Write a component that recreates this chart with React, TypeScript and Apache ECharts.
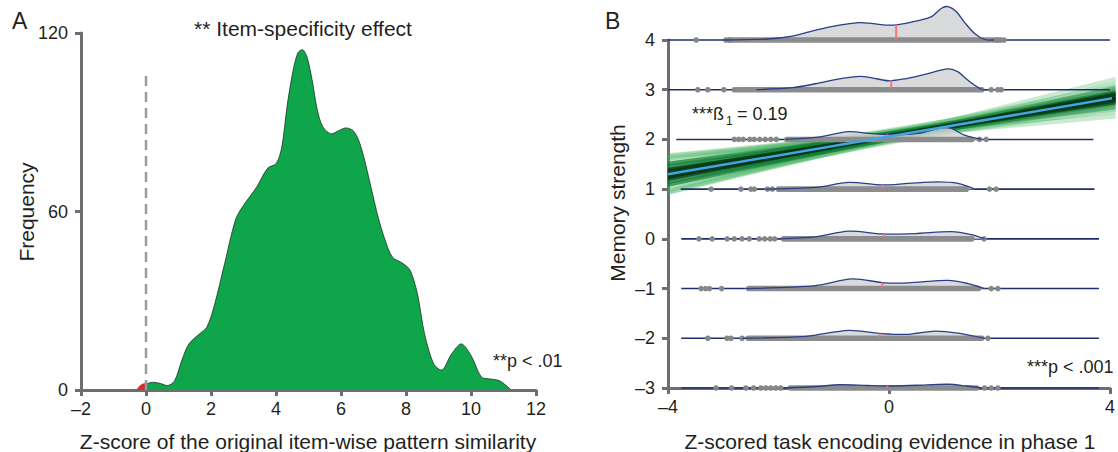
import React, { useEffect, useRef } from "react";
import * as echarts from "echarts";

// ---------- Panel A data ----------
const aDensityX = [0, 0.22, 0.44, 0.66, 0.88, 1.1, 1.32, 1.65, 1.87, 2.09, 2.42, 2.75, 2.97, 3.41, 3.74, 4.01, 4.18, 4.34, 4.51, 4.67, 4.81, 4.95, 5.11, 5.27, 5.44, 5.71, 5.93, 6.15, 6.37, 6.54, 6.7, 6.92, 7.14, 7.36, 7.58, 7.91, 8.13, 8.35, 8.57, 8.85, 9.09, 9.4, 9.7, 10.0, 10.33, 10.6, 10.88, 11.21];
const aDensityFreq = [2.0, 2.6, 2.2, 1.5, 3.1, 9.9, 15.5, 18.9, 21.1, 27.9, 42.5, 57.1, 61.6, 68.3, 74.5, 76.2, 81.8, 95.3, 106.5, 113.3, 114.4, 112.1, 104.3, 94.2, 88.5, 86.1, 87.2, 88.1, 87.2, 84.0, 78.4, 68.3, 58.2, 50.3, 44.7, 42.5, 40.2, 32.4, 18.9, 8.8, 6.7, 12.1, 15.5, 11.6, 4.3, 3.7, 3.1, 0.3];
const aNullX = [-0.28, -0.2, -0.1, 0];
const aNullFreq = [0, 1.3, 2.0, 2.3];
const aZeroLineX = [0, 0];
const aZeroLineY = [0, 106];
const aXTicks = { min: -2, max: 12, interval: 2 };
const aYTicks = { min: 0, max: 120, interval: 60 };

// ---------- Panel B data ----------
const memoryRows = [4, 3, 2, 1, 0, -1, -2, -3];
const rowLineStart = [-4, -4, -3.85, -3.77, -3.76, -3.76, -3.76, -3.76];
const rowLineEnd = [4, 4, 3.7, 3.72, 3.8, 3.8, 3.8, 3.8];
const rowDensityX = [
  [-3.0, -2.2, -1.75, -1.33, -0.9, -0.55, -0.37, -0.07, 0.17, 0.53, 0.77, 0.95, 1.07, 1.22, 1.37, 1.55, 1.73, 1.9],
  [-2.4, -1.75, -1.33, -0.9, -0.52, -0.31, -0.01, 0.29, 0.65, 1.07, 1.25, 1.43, 1.67, 1.8],
  [-1.87, -1.33, -0.73, -0.37, 0.05, 0.53, 0.95, 1.13, 1.37, 1.67],
  [-2.23, -1.33, -0.73, -0.13, 0.35, 0.89, 1.25, 1.55],
  [-1.99, -1.33, -0.73, -0.13, 0.47, 1.13, 1.49, 1.73],
  [-2.59, -1.33, -0.67, -0.07, 0.35, 1.07, 1.43, 1.73],
  [-2.65, -1.5, -0.73, -0.13, 0.35, 0.83, 1.25, 1.73],
  [-1.87, -1.3, -0.9, -0.4, 0, 0.5, 1.07, 1.4, 1.67],
];
const rowDensityH = [
  [0, 0.02, 0.08, 0.2, 0.3, 0.35, 0.34, 0.3, 0.31, 0.39, 0.47, 0.64, 0.67, 0.57, 0.35, 0.13, 0.01, 0],
  [0, 0.04, 0.12, 0.22, 0.27, 0.24, 0.18, 0.22, 0.31, 0.42, 0.36, 0.19, 0.01, 0],
  [0, 0.04, 0.155, 0.12, 0.095, 0.12, 0.235, 0.22, 0.085, 0],
  [0, 0.035, 0.135, 0.085, 0.115, 0.145, 0.115, 0],
  [0, 0.04, 0.155, 0.1, 0.105, 0.145, 0.085, 0],
  [0, 0.06, 0.195, 0.115, 0.115, 0.165, 0.1, 0],
  [0, 0.04, 0.16, 0.095, 0.08, 0.145, 0.105, 0],
  [0, 0.03, 0.065, 0.05, 0.04, 0.055, 0.075, 0.04, 0],
];
const rowMedian = [0.13, 0.04, -0.03, -0.12, -0.08, -0.12, -0.17, -0.03];
const rowStripStart = [-2.95, -2.8, -1.9, -2.05, -1.96, -2.59, -2.6, -1.84];
const rowStripEnd = [2.05, 1.73, 1.55, 1.45, 1.55, 1.67, 1.73, 1.64];
const rowDots = [
  [-3.49, -2.95, -2.88, 1.95, 2.02, 2.08],
  [-3.46, -3.28, -2.99, -2.8, 1.85, 1.97, 2.03],
  [-2.8, -2.72, -2.64, -2.52, -2.44, -2.34, -2.24, -2.14, -2.04, 1.64, 1.76],
  [-3.22, -2.68, -2.5, -2.44, -2.2, -2.11, 1.82, 1.94],
  [-3.44, -3.2, -2.93, -2.8, -2.66, -2.53, -2.35, -2.25, -2.15, -2.07, 1.72],
  [-3.4, -3.32, -3.25, -3.03, 1.85, 1.97],
  [-3.28, -2.93, -2.86, -2.66, 1.79],
  [-3.13, -2.85, -2.59, -2.45, -2.32, -2.23, -2.14, -2.05, -1.96, 1.73, 1.85, 1.97],
];
const fitIntercept = 2.06;
const fitSlope = 0.19;
const bootCoreA = [2.06, 2.04, 2.08, 2.05, 2.07, 2.03, 2.09, 2.06, 2.06, 2.05, 2.07, 2.04, 2.06, 2.08];
const bootCoreB = [0.19, 0.18, 0.2, 0.21, 0.17, 0.195, 0.185, 0.215, 0.165, 0.2, 0.18, 0.19, 0.205, 0.175];
const bootMidA = [2.02, 2.1, 1.99, 2.13, 2.05, 2.07, 2.01, 2.11, 2.04, 2.08, 2.03, 2.09, 2.0, 2.12];
const bootMidB = [0.17, 0.21, 0.2, 0.18, 0.24, 0.14, 0.23, 0.15, 0.2, 0.18, 0.22, 0.16, 0.215, 0.165];
const bootFaintA = [1.96, 2.16, 1.99, 2.13, 1.97, 2.15, 2.01, 2.11, 1.94, 2.18, 2.06, 2.06, 1.98, 2.14];
const bootFaintB = [0.18, 0.2, 0.15, 0.23, 0.235, 0.145, 0.27, 0.11, 0.21, 0.17, 0.28, 0.1, 0.25, 0.13];
const bXTicks = { min: -4, max: 4, interval: 4 };
const bYTicks = { min: -3, max: 4, interval: 1 };

// ---------- styles ----------
const FONT = "'Liberation Sans', Arial, Helvetica, sans-serif";
const TEXT = "#231f20";
const AXIS = "#6d6e71";

const fmt = (v: number) => String(v).replace("-", "\u2013");

function makeAxis(t: { min: number; max: number; interval: number }, gridIndex: number, isX: boolean) {
  return {
    type: "value",
    gridIndex,
    min: t.min,
    max: t.max,
    interval: t.interval,
    axisLine: { show: true, onZero: false, lineStyle: { color: AXIS, width: 3 } },
    axisTick: { show: true, length: 6, lineStyle: { color: AXIS, width: 3 } },
    axisLabel: { color: TEXT, fontSize: 18, fontFamily: FONT, margin: isX ? 10 : 13, formatter: fmt },
    splitLine: { show: false },
  };
}

function txt(text: string, x: number, y: number, size: number, align = "left", rotation = 0) {
  return {
    type: "text",
    x,
    y,
    rotation,
    z: 100,
    style: {
      text,
      fontSize: size,
      fontFamily: FONT,
      fill: TEXT,
      textAlign: align,
      align,
      textVerticalAlign: "middle",
      verticalAlign: "middle",
    },
  };
}

function bootSeries(as: number[], bs: number[], color: string, width: number) {
  return {
    type: "custom",
    xAxisIndex: 1,
    yAxisIndex: 1,
    clip: false,
    silent: true,
    z: 2,
    data: as.map((a, i) => [a, bs[i]]),
    renderItem: (_p: any, api: any) => {
      const a = api.value(0);
      const b = api.value(1);
      const p1 = api.coord([-4, a - 4 * b]);
      const p2 = api.coord([4.1, a + 4.1 * b]);
      return {
        type: "line",
        shape: { x1: p1[0], y1: p1[1], x2: p2[0], y2: p2[1] },
        style: { stroke: color, lineWidth: width },
      };
    },
  };
}

export default function App() {
  const ref = useRef<HTMLDivElement>(null);
  useEffect(() => {
    const chart = echarts.init(ref.current!, undefined, { renderer: "svg" });
    const option: any = {
      animation: false,
      backgroundColor: "#ffffff",
      grid: [
        { left: 81, top: 33, width: 455, height: 357 },
        { left: 668, top: 40, width: 445, height: 348 },
      ],
      xAxis: [makeAxis(aXTicks, 0, true), makeAxis(bXTicks, 1, true)],
      yAxis: [makeAxis(aYTicks, 0, false), makeAxis(bYTicks, 1, false)],
      series: [
        {
          type: "line",
          xAxisIndex: 0,
          yAxisIndex: 0,
          data: aDensityX.map((x, i) => [x, aDensityFreq[i]]),
          smooth: 0.3,
          symbol: "none",
          lineStyle: { color: "#1d3322", width: 0.8 },
          areaStyle: { color: "#0fa54a", opacity: 1 },
          z: 2,
        },
        {
          type: "line",
          xAxisIndex: 0,
          yAxisIndex: 0,
          data: aNullX.map((x, i) => [x, aNullFreq[i]]),
          smooth: 0.3,
          symbol: "none",
          lineStyle: { color: "#b01f24", width: 0.6 },
          areaStyle: { color: "#e3262b", opacity: 1 },
          z: 2,
        },
        {
          type: "line",
          xAxisIndex: 0,
          yAxisIndex: 0,
          data: aZeroLineX.map((x, i) => [x, aZeroLineY[i]]),
          symbol: "none",
          lineStyle: { color: "#9b9b9b", width: 2.5, type: [10, 6] },
          z: 3,
        },
        bootSeries(bootFaintA, bootFaintB, "rgba(60,175,90,0.28)", 5),
        bootSeries(bootMidA, bootMidB, "rgba(12,125,48,0.42)", 4),
        bootSeries(bootCoreA, bootCoreB, "rgba(5,50,20,0.42)", 3),
        {
          type: "custom",
          xAxisIndex: 1,
          yAxisIndex: 1,
          clip: false,
          silent: true,
          z: 4,
          data: memoryRows.map((r, i) => [0, r, i]),
          encode: { x: 0, y: 1 },
          renderItem: (_p: any, api: any) => {
            const i = api.value(2);
            const row = memoryRows[i];
            const xs = rowDensityX[i];
            const hs = rowDensityH[i];
            const curve = xs.map((x, k) => api.coord([x, row + hs[k]]));
            const b1 = api.coord([rowLineStart[i], row]);
            const b2 = api.coord([rowLineEnd[i], row]);
            const s1 = api.coord([rowStripStart[i], row]);
            const s2 = api.coord([rowStripEnd[i], row]);
            const mx = rowMedian[i];
            let mh = 0;
            for (let k = 0; k < xs.length - 1; k++) {
              if (mx >= xs[k] && mx <= xs[k + 1]) {
                const t = (mx - xs[k]) / (xs[k + 1] - xs[k]);
                mh = hs[k] + t * (hs[k + 1] - hs[k]);
              }
            }
            const m0 = api.coord([mx, row]);
            const m1 = api.coord([mx, row + mh]);
            const children: any[] = [
              {
                type: "line",
                shape: { x1: b1[0], y1: b1[1], x2: b2[0], y2: b2[1] },
                style: { stroke: "#1e2f6e", lineWidth: 1.6 },
              },
              {
                type: "polygon",
                shape: { points: curve, smooth: 0.3 },
                style: { fill: "#d2d3d5", opacity: 0.85 },
              },
              {
                type: "rect",
                shape: { x: s1[0], y: s1[1] - 2.8, width: s2[0] - s1[0], height: 5.6, r: 2.8 },
                style: { fill: "#8c8c8e" },
              },
            ];
            rowDots[i].forEach((d) => {
              const p = api.coord([d, row]);
              children.push({
                type: "circle",
                shape: { cx: p[0], cy: p[1], r: 2.8 },
                style: { fill: "#87878a" },
              });
            });
            children.push({
              type: "polyline",
              shape: { points: curve, smooth: 0.3 },
              style: { stroke: "#2b3f86", fill: null, lineWidth: 1.3 },
            });
            children.push({
              type: "line",
              shape: { x1: m0[0], y1: m0[1] - 1, x2: m1[0], y2: m1[1] },
              style: { stroke: "#f07a7a", lineWidth: 2 },
            });
            return { type: "group", children };
          },
        },
        {
          type: "line",
          xAxisIndex: 1,
          yAxisIndex: 1,
          clip: false,
          data: [
            [-4, fitIntercept - 4 * fitSlope],
            [4.05, fitIntercept + 4.05 * fitSlope],
          ],
          symbol: "none",
          lineStyle: { color: "#42a5dd", width: 2.5 },
          z: 6,
        },
      ],
      graphic: [
        txt("A", 12, 21, 23),
        txt("B", 605, 21, 23),
        txt("** Item-specificity effect", 303, 28, 21, "center"),
        txt("Frequency", 26, 212, 21, "center", Math.PI / 2),
        txt("Z-score of the original item-wise pattern similarity", 308, 441, 21, "center"),
        txt("**p < .01", 493, 361, 18),
        txt("Memory strength", 617, 203, 21, "center", Math.PI / 2),
        txt("Z-scored task encoding evidence in phase 1", 890, 441, 21, "center"),
        txt("***p < .001", 1027, 367, 18),
        txt("***ß", 692, 114, 18),
        txt("1", 726, 121, 12),
        txt("= 0.19", 737, 114, 18),
      ],
    };
    chart.setOption(option);
    return () => chart.dispose();
  }, []);
  return (
    <div
      ref={ref}
      style={{ position: "fixed", left: 0, top: 0, width: 1118, height: 452, background: "#fff" }}
    />
  );
}
